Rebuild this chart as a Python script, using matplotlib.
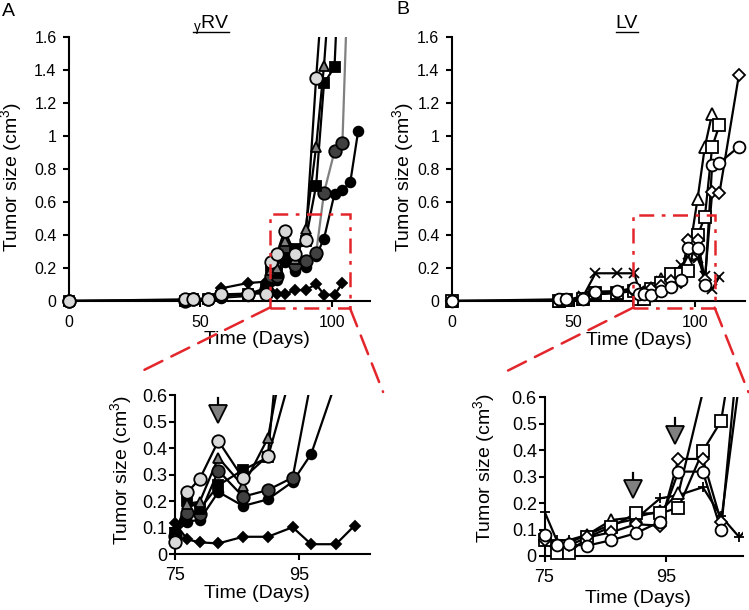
import numpy as np
import matplotlib
matplotlib.use("Agg")
import matplotlib.pyplot as plt
from matplotlib.patches import Rectangle, ConnectionPatch
from matplotlib.lines import Line2D
from matplotlib.transforms import IdentityTransform

plt.rcParams['font.family'] = ['Liberation Sans', 'DejaVu Sans']
plt.rcParams['mathtext.fontset'] = 'custom'
plt.rcParams['mathtext.rm'] = 'Liberation Sans'

# ---- panel A (gamma-RV) ----
a_diam_days = [0, 44, 47, 53, 58, 68, 75, 77, 79, 82, 86, 90, 94, 97, 101, 104]
a_diam_vals = [0, 0.005, 0.005, 0.01, 0.077, 0.109, 0.117, 0.056, 0.045, 0.041, 0.066, 0.066, 0.102, 0.038, 0.038, 0.108]

a_lcirc_days = [0, 44, 47, 53, 58, 68, 75, 77, 79, 82, 86, 90, 94, 97]
a_lcirc_vals = [0, 0.01, 0.01, 0.01, 0.04, 0.045, 0.045, 0.234, 0.284, 0.427, 0.286, 0.371, 1.35, 2.0]

a_tri_days = [0, 44, 47, 53, 58, 68, 75, 77, 79, 82, 86, 90, 94, 97, 101]
a_tri_vals = [0, 0, 0.01, 0.01, 0.03, 0.04, 0.06, 0.19, 0.198, 0.364, 0.257, 0.437, 0.934, 1.425, 2.3]

a_sq_days = [0, 44, 47, 53, 58, 68, 75, 77, 79, 82, 86, 90, 94, 97, 101, 104]
a_sq_vals = [0, 0, 0.01, 0.01, 0.03, 0.04, 0.08, 0.2, 0.17, 0.26, 0.318, 0.365, 0.70, 1.32, 1.417, 2.5]

a_dcirc_days = [0, 44, 47, 53, 58, 68, 75, 77, 79, 82, 86, 90, 94, 97, 101, 104, 107]
a_dcirc_vals = [0, 0, 0.01, 0.01, 0.03, 0.04, 0.07, 0.154, 0.15, 0.315, 0.217, 0.242, 0.289, 0.656, 0.907, 0.955, 2.4]

a_bcirc_days = [0, 44, 47, 53, 58, 68, 75, 77, 79, 82, 86, 90, 94, 97, 101, 104, 107, 110]
a_bcirc_vals = [0, 0, 0.01, 0.01, 0.02, 0.03, 0.08, 0.123, 0.13, 0.235, 0.182, 0.207, 0.273, 0.378, 0.65, 0.67, 0.72, 1.03]

# ---- panel B (LV) ----
b_circ_days = [0, 44, 47, 54, 59, 68, 75, 77, 79, 82, 86, 90, 94, 97, 101, 104, 107, 110, 118]
b_circ_vals = [0, 0.01, 0.01, 0.01, 0.057, 0.06, 0.079, 0.042, 0.044, 0.039, 0.06, 0.086, 0.13, 0.319, 0.319, 0.098, 0.827, 0.838, 0.935]

b_sq_days = [0, 44, 47, 54, 59, 68, 75, 77, 79, 82, 86, 90, 94, 97, 101, 104, 107, 110]
b_sq_vals = [0, 0, 0.005, 0.01, 0.05, 0.05, 0.06, 0.012, 0.012, 0.07, 0.111, 0.161, 0.161, 0.183, 0.397, 0.51, 0.935, 1.066]

b_tri_days = [0, 44, 47, 54, 59, 68, 75, 77, 79, 82, 86, 90, 94, 97, 101, 104, 107]
b_tri_vals = [0, 0, 0.005, 0.01, 0.04, 0.05, 0.07, 0.04, 0.05, 0.08, 0.136, 0.147, 0.17, 0.237, 0.62, 0.935, 1.136]

b_diam_days = [0, 44, 47, 54, 59, 68, 75, 77, 79, 82, 86, 90, 94, 97, 101, 104, 107, 110, 118]
b_diam_vals = [0, 0, 0.005, 0.01, 0.04, 0.05, 0.06, 0.04, 0.04, 0.07, 0.09, 0.12, 0.115, 0.367, 0.367, 0.13, 0.66, 0.655, 1.37]

b_x_days = [0, 44, 47, 54, 59, 68, 75, 77, 79, 82, 86, 90, 94, 97, 101, 104, 107, 110]
b_x_vals = [0, 0, 0.005, 0.03, 0.168, 0.168, 0.168, 0.06, 0.06, 0.08, 0.12, 0.14, 0.218, 0.23, 0.26, 0.15, 0.071, 0.148]

# treatment arrows (day, top of stem, bottom of head)
a_arrows = [(82, 0.59, 0.50)]
b_arrows = [(89.5, 0.315, 0.222), (96.5, 0.52, 0.426)]

RED = '#e3262b'

# series: days, vals, marker, size, face, line colour, marker in inset
series_a = [
    (a_diam_days, a_diam_vals, 'D', 5.5, 'black', 'black', 'D'),
    (a_bcirc_days, a_bcirc_vals, 'o', 7, 'black', 'black', 'o'),
    (a_dcirc_days, a_dcirc_vals, 'o', 9, '#404040', '#808080', 'o'),
    (a_sq_days, a_sq_vals, 's', 7, 'black', 'black', 's'),
    (a_tri_days, a_tri_vals, '^', 7.5, '#808080', 'black', '^'),
    (a_lcirc_days, a_lcirc_vals, 'o', 9, '#d9d9d9', 'black', 'o'),
]
series_b = [
    (b_x_days, b_x_vals, 'x', 7, 'black', 'black', '+'),
    (b_tri_days, b_tri_vals, '^', 8, 'white', 'black', '^'),
    (b_sq_days, b_sq_vals, 's', 8, 'white', 'black', 's'),
    (b_diam_days, b_diam_vals, 'D', 6, 'white', 'black', 'D'),
    (b_circ_days, b_circ_vals, 'o', 8.5, 'white', 'black', 'o'),
]


def draw_series(ax, days, vals, marker, size, face, lcol, inset=False):
    days = np.asarray(days, float)
    vals = np.asarray(vals, float)
    ax.plot(days, vals, color=lcol if not inset else 'black', lw=1.6, zorder=2)
    x0, x1 = ax.get_xlim()
    y0, y1 = ax.get_ylim()
    m = (days >= x0) & (days <= x1) & (vals <= y1)
    ax.plot(days[m], vals[m], ls='none', marker=marker, ms=size, mfc=face,
            mec='black', mew=1.3, clip_on=False, zorder=3)


def style_axes(ax, yticks, xticks, fs, xpad, ypad):
    for s in ['top', 'right']:
        ax.spines[s].set_visible(False)
    for s in ['left', 'bottom']:
        ax.spines[s].set_linewidth(1.5)
    ax.set_yticks(yticks)
    ax.set_yticklabels([f'{v:g}' for v in yticks])
    ax.set_xticks(xticks)
    ax.set_xticklabels([f'{v:g}' for v in xticks])
    ax.tick_params(direction='out', length=4, width=1.5, labelsize=fs)
    ax.tick_params(axis='x', pad=xpad)
    ax.tick_params(axis='y', pad=ypad)


W, H = 749, 610
fig = plt.figure(figsize=(W / 100, H / 100), dpi=100)


def px_axes(l, r, t, b):
    return fig.add_axes([l / W, 1 - b / H, (r - l) / W, (b - t) / H])


axA = px_axes(69, 370, 37, 301)
axB = px_axes(452, 745, 37, 301)
inA = px_axes(175, 370, 395, 554.3)
inB = px_axes(544.5, 743, 397.3, 556)

axA.set_xlim(0, 114.5)
axB.set_xlim(0, 120.5)
for ax in (axA, axB):
    ax.set_ylim(0, 1.6)
inA.set_xlim(75, 106.5)
inB.set_xlim(75, 107.6)
for ax in (inA, inB):
    ax.set_ylim(0, 0.6)

main_yt = [0, 0.2, 0.4, 0.6, 0.8, 1, 1.2, 1.4, 1.6]
ins_yt = [0, 0.1, 0.2, 0.3, 0.4, 0.5, 0.6]
style_axes(axA, main_yt, [0, 50, 100], 11.5, 6, 5)
style_axes(axB, main_yt, [0, 50, 100], 11.5, 6, 5)
style_axes(inA, ins_yt, [75, 95], 13, 5, 1.5)
style_axes(inB, ins_yt, [75, 95], 13, 5, 1.5)

for s in series_a:
    draw_series(axA, s[0], s[1], s[2], s[3], s[4], s[5])
    draw_series(inA, s[0], s[1], s[6], s[3], s[4], s[5], inset=True)
for s in series_b:
    draw_series(axB, s[0], s[1], s[2], s[3], s[4], s[5])
    draw_series(inB, s[0], s[1], s[6], s[3], s[4], s[5], inset=True)

# arrows in the insets
for ax, arrows in ((inA, a_arrows), (inB, b_arrows)):
    for d, top, bot in arrows:
        ax.plot([d, d], [top, bot + 0.05], color='black', lw=1.6, zorder=4)
        ax.plot([d], [bot + 0.03], ls='none', marker='v', ms=13, mfc='#808080',
                mec='black', mew=1.3, zorder=5)

# labels
lab_fs = 14
for ax, xl, ylc in ((axA, (0.624, -0.114), (-0.146, 0.471)),
                    (axB, (0.638, -0.116), (-0.119, 0.471)),
                    (inA, (0.419, -0.193), (-0.205, 0.529)),
                    (inB, (0.472, -0.214), (-0.235, 0.555))):
    ax.set_xlabel('Time (Days)', fontsize=lab_fs)
    ax.set_ylabel('Tumor size (cm$^3$)', fontsize=lab_fs)
    ax.xaxis.set_label_coords(*xl)
    ax.yaxis.set_label_coords(*ylc)

# zoom boxes and connectors
for ax, ins, x0, x1, top, lend, rend in (
        (axA, inA, 76.4, 106.8, 0.525, (-0.18, 1.144), (1.067, 1.019)),
        (axB, inB, 74.5, 108.0, 0.52, (-0.199, 1.159), (1.027, 1.033))):
    rect = Rectangle((x0, -0.04), x1 - x0, top + 0.04, fill=False, edgecolor=RED,
                     lw=1.8, ls=(0, (6, 3, 1.5, 3)), clip_on=False, zorder=6)
    ax.add_patch(rect)
    for xa, end in ((x0, lend), (x1, rend)):
        cp = ConnectionPatch(xyA=(xa, -0.04), coordsA=ax.transData,
                             xyB=end, coordsB=ins.transAxes,
                             color=RED, lw=1.8, ls=(0, (8, 4)))
        fig.add_artist(cp)

# panel letters
fig.text(8 / W, 1 - 12 / H, 'A', fontsize=14, ha='center', va='center')
fig.text(403 / W, 1 - 10 / H, 'B', fontsize=14, ha='center', va='center')

# underlined titles
tA = fig.text(211 / W, 1 - 28.5 / H, r'$_{\mathrm{γ}}$RV', fontsize=14, ha='center', va='baseline')
tB = fig.text(627 / W, 1 - 28.5 / H, 'LV', fontsize=14, ha='center', va='baseline')
fig.canvas.draw()
rend = fig.canvas.get_renderer()
for t in (tA, tB):
    bb = t.get_window_extent(rend)
    yb = H - 31.7
    fig.add_artist(Line2D([bb.x0, bb.x1], [yb, yb], color='black', lw=1.0,
                          transform=IdentityTransform()))

fig.savefig('out.png', dpi=100)
